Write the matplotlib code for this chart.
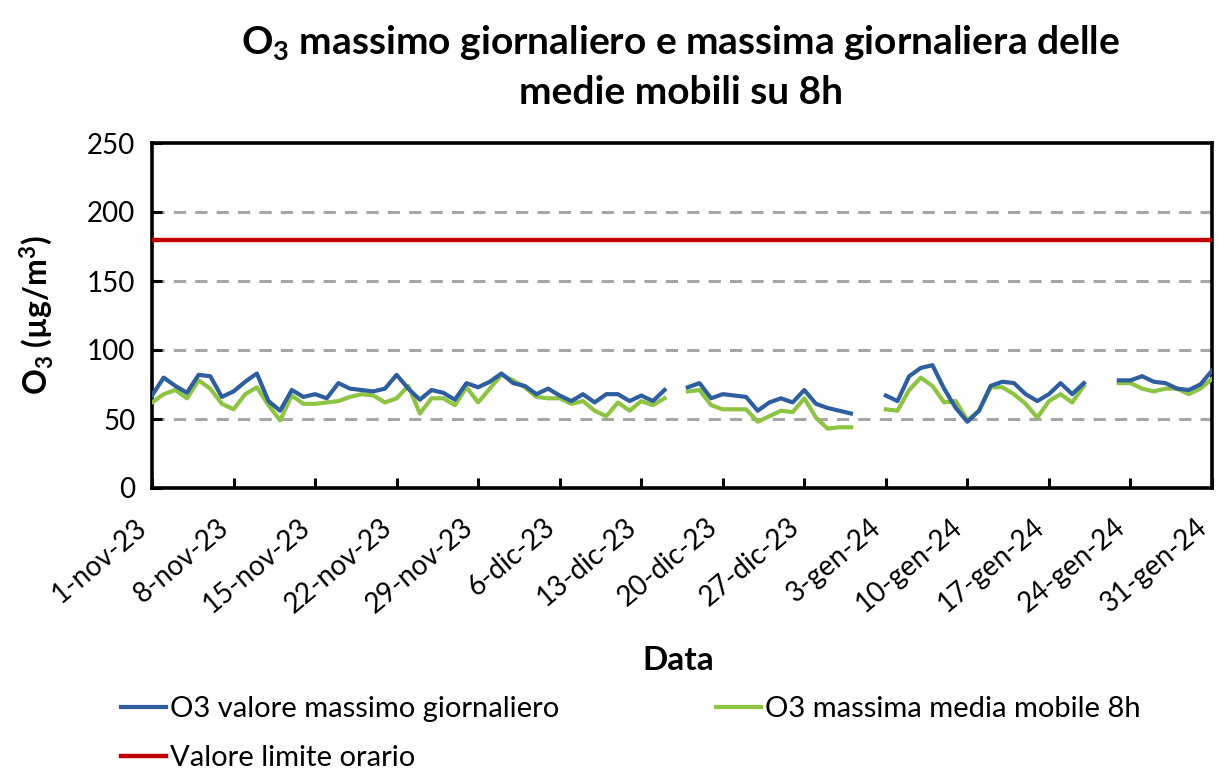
import numpy as np
import matplotlib
matplotlib.use("Agg")
import matplotlib.pyplot as plt

nan = np.nan

tick_labels = ["1-nov-23", "8-nov-23", "15-nov-23", "22-nov-23", "29-nov-23",
               "6-dic-23", "13-dic-23", "20-dic-23", "27-dic-23", "3-gen-24",
               "10-gen-24", "17-gen-24", "24-gen-24", "31-gen-24"]

o3_max = [67, 80, 74, 69, 82, 81, 66, 70, 77, 83,
          63, 56, 71, 66, 68, 65, 76, 72, 71, 70,
          72, 82, 72, 64, 71, 69, 64, 76, 73, 77,
          83, 76, 74, 68, 72, 67, 63, 68, 62, 68,
          68, 63, 67, 63, 71, nan, 73, 76, 65, 68,
          67, 66, 56, 62, 65, 62, 71, 61, 58, 56,
          54, nan, nan, 67, 63, 81, 87, 89, 72, 58,
          48, 56, 74, 77, 76, 68, 63, 68, 76, 68,
          76, nan, nan, 78, 78, 81, 77, 76, 72, 71,
          75, 85]

o3_mm8h = [62, 68, 71, 65, 78, 72, 61, 57, 68, 73,
           60, 49, 67, 61, 61, 62, 63, 66, 68, 67,
           62, 65, 74, 54, 65, 65, 60, 73, 62, 72,
           82, 78, 73, 66, 65, 65, 61, 63, 56, 52,
           62, 56, 63, 60, 65, nan, 70, 71, 60, 57,
           57, 57, 48, 52, 56, 55, 65, 51, 43, 44,
           44, nan, nan, 57, 56, 71, 80, 74, 62, 63,
           49, 56, 73, 73, 68, 61, 51, 63, 68, 62,
           74, nan, nan, 76, 76, 72, 70, 72, 72, 68,
           72, 79]

limit_value = 180

plt.rcParams['font.family'] = ['Lato', 'DejaVu Sans']
plt.rcParams['mathtext.fontset'] = 'custom'
plt.rcParams['mathtext.rm'] = 'Lato'
plt.rcParams['mathtext.bf'] = 'Lato:bold'
plt.rcParams['mathtext.it'] = 'Lato:italic'

W, H = 1218, 773
fig = plt.figure(figsize=(W / 100, H / 100), dpi=100)
ax = fig.add_axes([152 / W, 1 - 488 / H, (1212 - 152) / W, (488 - 143) / H])

days = np.arange(len(o3_max))
l1, = ax.plot(days, o3_max, color='#2E5E9E', lw=3.0, solid_joinstyle='round',
              label='O3 valore massimo giornaliero', zorder=4)
l2, = ax.plot(days, o3_mm8h, color='#8DC443', lw=3.0, solid_joinstyle='round',
              label='O3 massima media mobile 8h', zorder=3)
l3 = ax.axhline(limit_value, color='#C00000', lw=3.2, label='Valore limite orario',
                zorder=5)

ax.set_xlim(0, len(o3_max) - 1)
ax.set_ylim(0, 250)
ax.set_yticks(np.arange(0, 251, 50))
ax.set_xticks(np.arange(0, len(o3_max), 7))
ax.set_xticklabels(tick_labels, rotation=40, ha='right', va='bottom',
                   rotation_mode='anchor', fontsize=20)

for y in [50, 100, 150, 200]:
    ax.axhline(y, color='#A6A6A6', lw=2.2, ls=(0, (4, 3)), zorder=1)

for s in ax.spines.values():
    s.set_linewidth(2.6)
    s.set_color('black')

ax.tick_params(axis='both', direction='in', length=7, width=2.2, colors='black')
ax.tick_params(axis='y', labelsize=20, pad=12)
ax.tick_params(axis='x', pad=33)

fig.text(681 / W, 1 - 42 / H,
         r"$\mathbf{O_3}$ massimo giornaliero e massima giornaliera delle",
         ha='center', va='center', fontsize=28, fontweight='bold')
fig.text(681 / W, 1 - 93 / H, "medie mobili su 8h",
         ha='center', va='center', fontsize=28, fontweight='bold')

fig.text(36 / W, 1 - 315 / H, r"$\mathbf{O_3}$ (µg/m$^{\mathbf{3}}$)", rotation=90,
         ha='center', va='center', fontsize=23, fontweight='bold')
fig.text(678 / W, 1 - 661 / H, "Data", ha='center', va='center',
         fontsize=24, fontweight='bold')

leg_kw = dict(loc='upper left', frameon=False, fontsize=21, handlelength=1.55,
              handletextpad=0.12, labelspacing=0.78, borderaxespad=0, borderpad=0)
fig.legend([l1, l3], [l1.get_label(), l3.get_label()],
           bbox_to_anchor=(121 / W, 1 - 696 / H), **leg_kw)
fig.legend([l2], [l2.get_label()],
           bbox_to_anchor=(716 / W, 1 - 696 / H), **leg_kw)

fig.savefig("out.png", dpi=100)
